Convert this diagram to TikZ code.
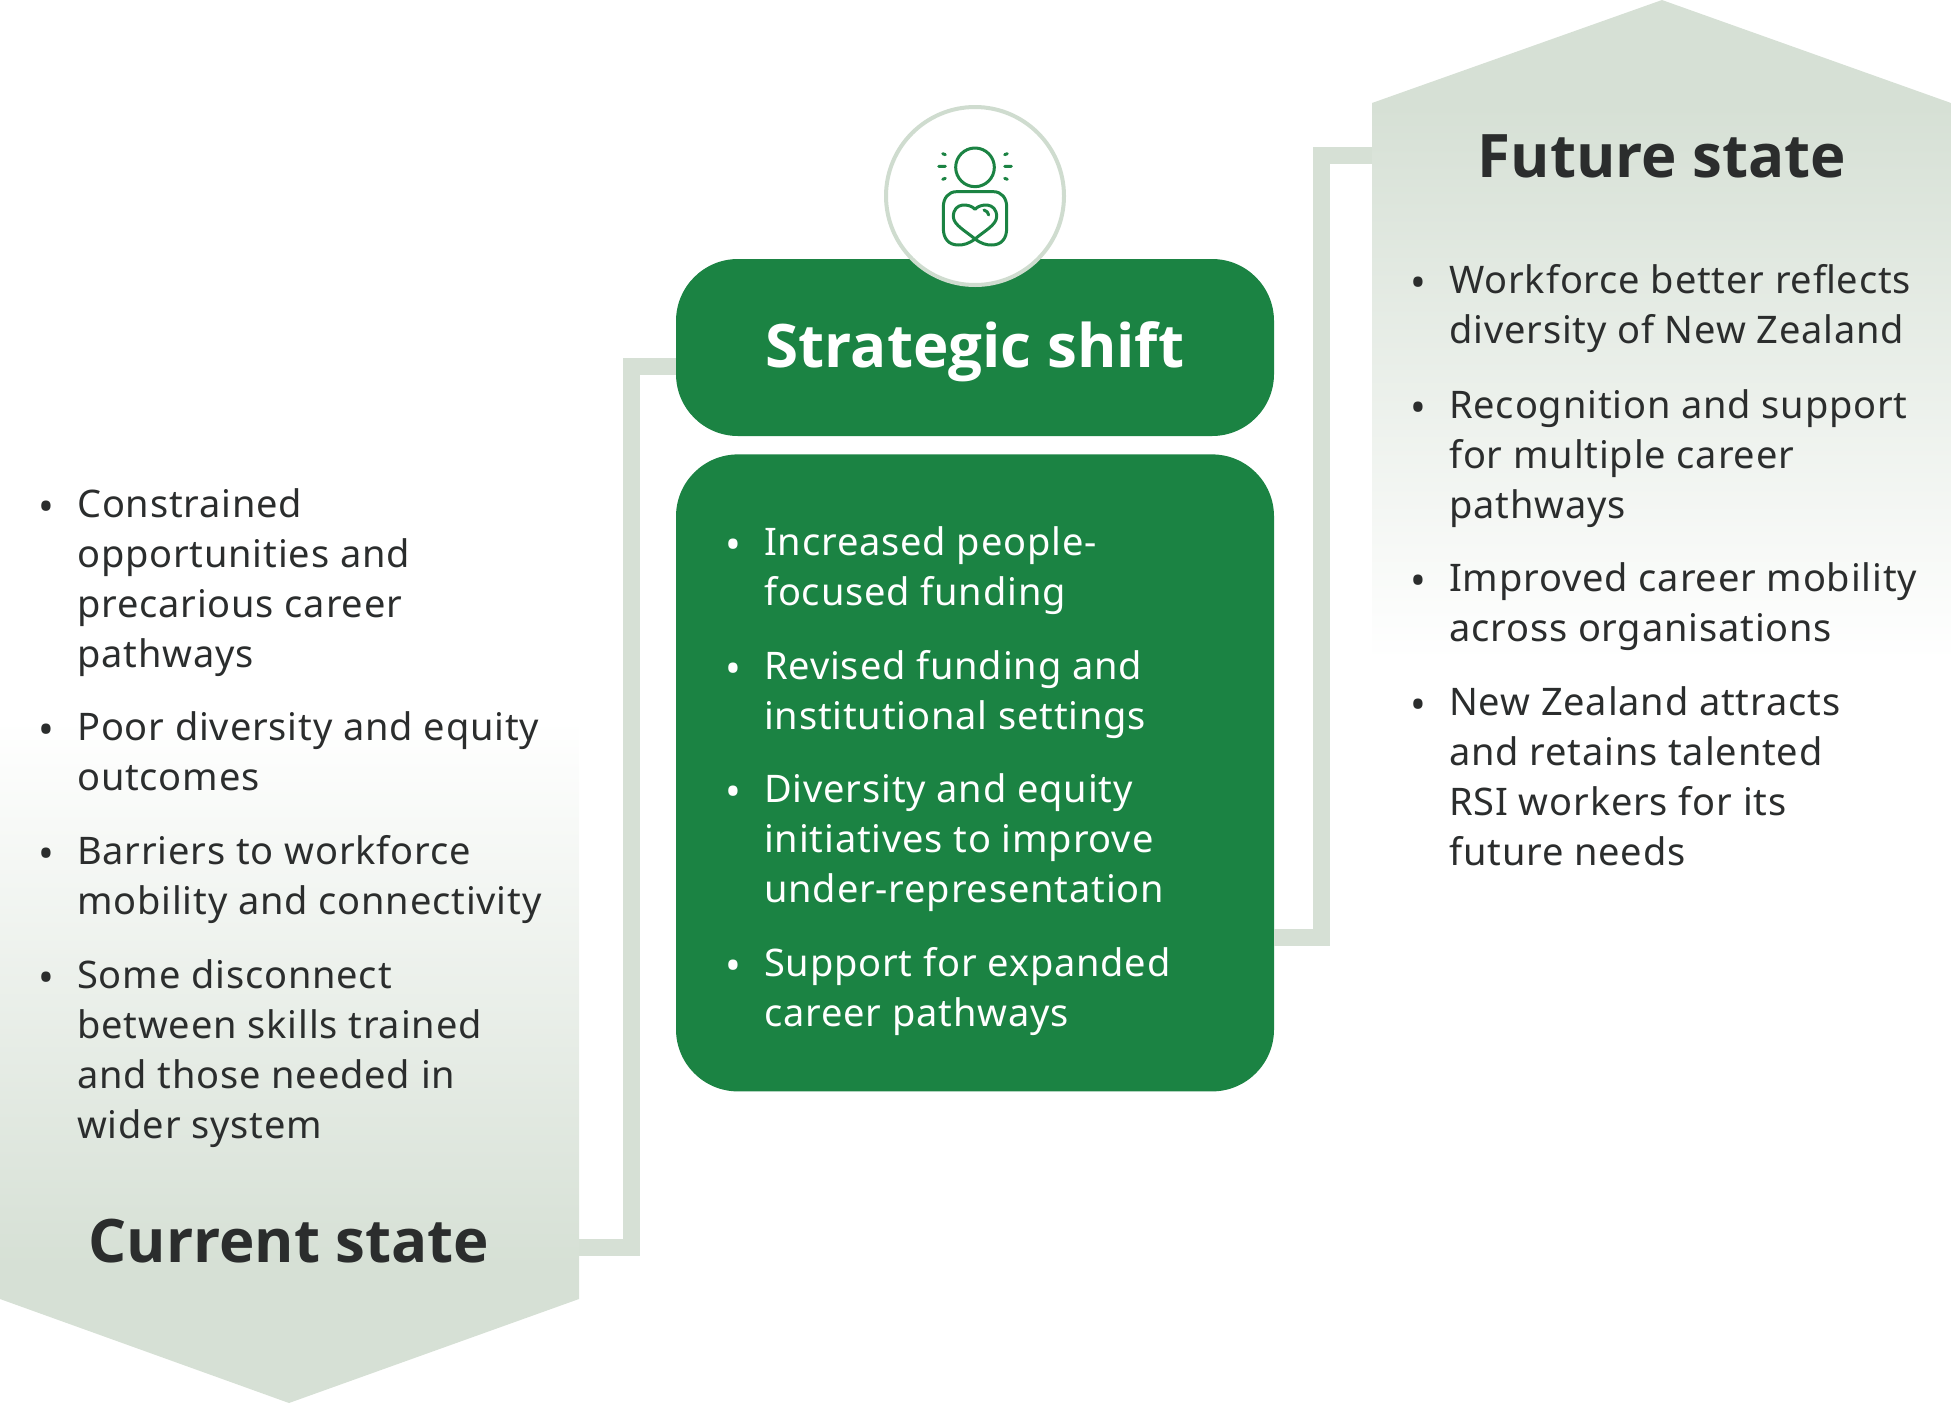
\documentclass[tikz,border=0pt]{standalone}
\usepackage{fontspec}
\usepackage{xcolor}
\setmainfont{Noto Sans}[LetterSpace=2.2]
\newfontfamily\headfont{Open Sans}
\usetikzlibrary{
	calc,
	positioning
}
\definecolor{LeafGreen}{RGB}{27,131,67}
\definecolor{PaleSage}{RGB}{214,224,213}
\definecolor{RingSage}{RGB}{207,220,207}
\definecolor{InkGrey}{RGB}{43,45,45}
\pgfdeclareverticalshading{futurefade}{100bp}{color(0bp)=(white); color(25bp)=(white); color(67bp)=(PaleSage); color(100bp)=(PaleSage)}
\pgfdeclareverticalshading{currentfade}{100bp}{color(0bp)=(PaleSage); color(35bp)=(PaleSage); color(75bp)=(white); color(100bp)=(white)}
\tikzset{
	linkline/.style={draw=PaleSage, line width=17pt, line join=miter},
	greenbox/.style={fill=LeafGreen, minimum width=598pt, inner sep=0pt},
	headtext/.style={font=\headfont\fontsize{60}{70}\selectfont\bfseries, text=InkGrey, inner sep=0pt, anchor=base},
	itemtext/.style={font=\fontsize{38}{50}\selectfont, text=InkGrey, inner sep=0pt, align=left, anchor=north west, execute at begin node=\strut},
	whiteitem/.style={itemtext, text=white},
	bulletmark/.style={font=\fontsize{42}{50}\selectfont, text=InkGrey, inner sep=0pt, anchor=base},
	iconline/.style={draw=LeafGreen, line width=3pt, line cap=round, line join=round}
}
\begin{document}
\begin{tikzpicture}[x=1pt, y=-1pt]
		\useasboundingbox (0,0) rectangle (1951,1403);
		% state panels
		\shade[shading=futurefade] (1372,660) -- (1372,103) -- (1662,0) -- (1951,103) -- (1951,660) -- cycle;
		\shade[shading=currentfade] (0,720) -- (579,720) -- (579,1299) -- (289,1403) -- (0,1299) -- cycle;
		\coordinate (futurelink) at (1372,155.5);
		\coordinate (currentlink) at (579,1247);
		% boxes
		\node[greenbox, rounded corners=62pt, minimum height=177pt] (shift) at (975,347.5) {};
		\node[greenbox, rounded corners=62pt, minimum height=637pt, below=18pt of shift] (shiftbody) {};
		% connectors
		\draw[linkline] (currentlink) -- (631,1247) -- (631,366) -- (shift.west |- 0,366);
		\draw[linkline] (shiftbody.east |- 0,937) -- (1321.5,937) -- (1321.5,155.5) -- (futurelink);
		\node[circle, fill=white, draw=RingSage, line width=4pt, minimum size=178pt, inner sep=0pt] (badge) at (975,196) {};
		% icon
		\begin{scope}[shift={(860,90)}, x=1/3*1pt, y=-1/3*1pt]
			\draw[iconline] (345,232) circle (58);
			\draw[iconline] (236,229) -- (256,229) (248,191) -- (256,194) (248,268) -- (256,265);
			\draw[iconline] (454,229) -- (434,229) (442,191) -- (434,194) (442,268) -- (434,265);
			\draw[iconline] (345,358) .. controls (330,340) and (280,335) .. (280,380) .. controls (280,405) and (320,425) .. (345,447) .. controls (365,462) and (380,465) .. (395,465) .. controls (425,465) and (440,445) .. (440,415) -- (440,350) .. controls (440,325) and (425,305) .. (400,305) -- (290,305) .. controls (265,305) and (250,325) .. (250,350) -- (250,415) .. controls (250,445) and (265,465) .. (295,465) .. controls (310,465) and (325,462) .. (345,447) .. controls (370,425) and (410,405) .. (410,380) .. controls (410,335) and (360,340) .. (345,358);
			\draw[iconline] (372,360) .. controls (380,362) and (385,368) .. (386,375);
		\end{scope}
		% headings
		\node[headtext, text=white] (shifthead) at (975,367) {Strategic shift};
		\node[headtext] (futurehead) at (1662,177) {Future state};
		\node[headtext] (currenthead) at (289,1262) {Current state};
		% current state items
		\node[itemtext] (current1) at (77,488) {Constrained\\opportunities and\\precarious career\\pathways};
		\node[itemtext] (current2) at (77,711) {Poor diversity and equity\\outcomes};
		\node[itemtext] (current3) at (77,835) {Barriers to workforce\\mobility and connectivity};
		\node[itemtext] (current4) at (77,959) {Some disconnect\\between skills trained\\and those needed in\\wider system};
		% shift items
		\node[whiteitem] (shift1) at (764,526) {Increased people-\\focused funding};
		\node[whiteitem] (shift2) at (764,650) {Revised funding and\\institutional settings};
		\node[whiteitem] (shift3) at (764,773) {Diversity and equity\\initiatives to improve\\under-representation};
		\node[whiteitem] (shift4) at (764,947) {Support for expanded\\career pathways};
		% future state items
		\node[itemtext] (future1) at (1449,264) {Workforce better reflects\\diversity of New Zealand};
		\node[itemtext] (future2) at (1449,389) {Recognition and support\\for multiple career\\pathways};
		\node[itemtext] (future3) at (1449,562) {Improved career mobility\\across organisations};
		\node[itemtext] (future4) at (1449,686) {New Zealand attracts\\and retains talented\\RSI workers for its\\future needs};
		% bullets
		\foreach \n in {current1,current2,current3,current4,future1,future2,future3,future4}
			\node[bulletmark] (\n dot) at ($(\n.north west)+(-31,33)$) {•};
		\foreach \n in {shift1,shift2,shift3,shift4}
			\node[bulletmark, text=white] (\n dot) at ($(\n.north west)+(-31,33)$) {•};
	\end{tikzpicture}
\end{document}
